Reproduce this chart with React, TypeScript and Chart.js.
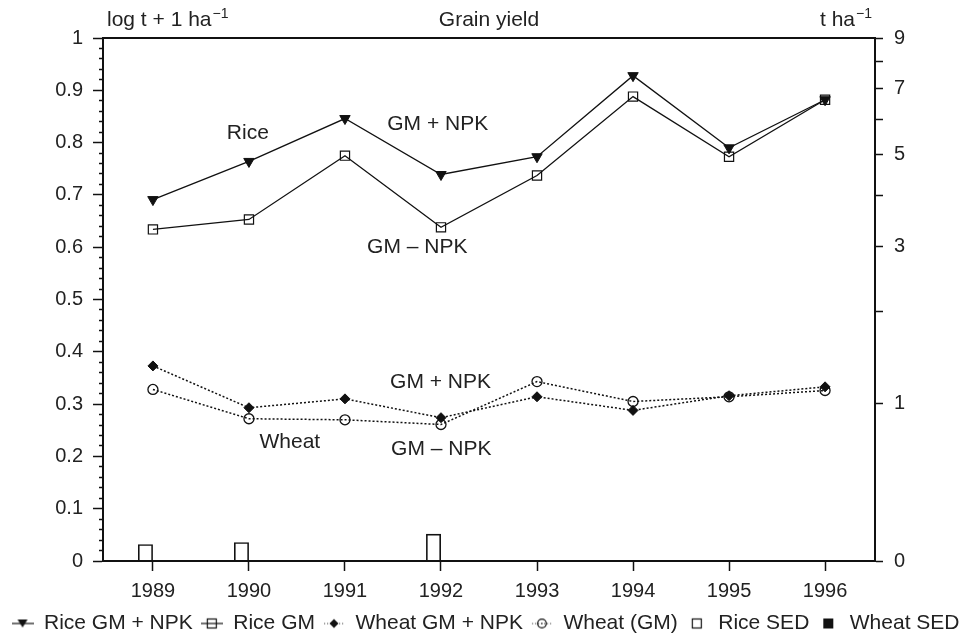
import { useEffect, useRef } from 'react';
import { Chart, registerables } from 'chart.js';

Chart.register(...registerables);

// ---------- data ----------
const years = [1989, 1990, 1991, 1992, 1993, 1994, 1995, 1996];
const riceGmNpk = [0.691, 0.764, 0.846, 0.739, 0.773, 0.928, 0.79, 0.882];
const riceGm = [0.634, 0.653, 0.775, 0.638, 0.737, 0.888, 0.773, 0.882];
const wheatGmNpk = [0.373, 0.293, 0.31, 0.274, 0.314, 0.288, 0.316, 0.333];
const wheatGm = [0.328, 0.272, 0.27, 0.261, 0.343, 0.305, 0.314, 0.326];
const riceSedYears = [1989, 1990, 1992];
const riceSed = [0.032, 0.036, 0.052];
const wheatSedYears: number[] = [];
const wheatSed: number[] = [];

const seriesLabels = ['Rice GM + NPK', 'Rice GM', 'Wheat GM + NPK', 'Wheat (GM)', 'Rice SED', 'Wheat SED'];

const leftMajorTicks = [0, 0.1, 0.2, 0.3, 0.4, 0.5, 0.6, 0.7, 0.8, 0.9, 1];
const leftTickLabels = ['0', '0.1', '0.2', '0.3', '0.4', '0.5', '0.6', '0.7', '0.8', '0.9', '1'];
const leftMinorStep = 0.02;
const rightTickValues = [0, 1, 2, 3, 4, 5, 6, 7, 8, 9]; // t ha-1, axis is log10(t + 1)
const rightTickLabels = ['0', '1', '', '3', '', '5', '', '7', '', '9'];

const annotations = [
  { text: 'Rice', x: 1989.77, y: 0.818 },
  { text: 'GM + NPK', x: 1991.44, y: 0.836 },
  { text: 'GM \u2013 NPK', x: 1991.23, y: 0.6 },
  { text: 'GM + NPK', x: 1991.47, y: 0.341 },
  { text: 'Wheat', x: 1990.11, y: 0.227 },
  { text: 'GM \u2013 NPK', x: 1991.48, y: 0.213 },
];

const FONT = '"Liberation Sans", Arial, Helvetica, sans-serif';
const INK = '#111';
const TXT = '#222';

function makeIcon(draw: (g: CanvasRenderingContext2D) => void) {
  const c = document.createElement('canvas');
  c.width = 22;
  c.height = 16;
  const g = c.getContext('2d')!;
  g.strokeStyle = INK;
  g.fillStyle = INK;
  g.lineWidth = 1.2;
  draw(g);
  return c;
}

function solidLine(g: CanvasRenderingContext2D) {
  g.beginPath();
  g.moveTo(0, 8);
  g.lineTo(22, 8);
  g.stroke();
}
function dottedLine(g: CanvasRenderingContext2D) {
  g.save();
  g.fillStyle = '#666';
  for (let x = 1; x < 22; x += 3) g.fillRect(x, 7.5, 1.2, 1.2);
  g.restore();
}

export default function App() {
  const ref = useRef<HTMLCanvasElement>(null);

  useEffect(() => {
    document.body.style.margin = '0';
    const canvas = ref.current!;

    const icons = [
      makeIcon((g) => {
        solidLine(g);
        g.beginPath();
        g.moveTo(6, 4);
        g.lineTo(16, 4);
        g.lineTo(11, 12);
        g.closePath();
        g.fill();
      }),
      makeIcon((g) => {
        solidLine(g);
        g.strokeRect(6.5, 3.5, 9, 9);
      }),
      makeIcon((g) => {
        dottedLine(g);
        g.beginPath();
        g.moveTo(11, 3.5);
        g.lineTo(15.5, 8);
        g.lineTo(11, 12.5);
        g.lineTo(6.5, 8);
        g.closePath();
        g.fill();
      }),
      makeIcon((g) => {
        dottedLine(g);
        g.beginPath();
        g.arc(11, 8, 4.3, 0, Math.PI * 2);
        g.stroke();
        g.fillRect(10.4, 7.4, 1.2, 1.2);
      }),
      makeIcon((g) => {
        g.strokeRect(6.5, 3.5, 9, 9);
      }),
      makeIcon((g) => {
        g.fillRect(6, 3, 10, 10);
      }),
    ];

    const isMajor = (v: number) => leftMajorTicks.some((m) => Math.abs(m - v) < 1e-6);

    const textPlugin = {
      id: 'texts',
      afterDraw(chart: any) {
        const { ctx, scales, chartArea } = chart;
        ctx.save();
        ctx.fillStyle = TXT;
        ctx.font = `21px ${FONT}`;
        ctx.textAlign = 'left';
        ctx.textBaseline = 'middle';
        annotations.forEach((a) => {
          ctx.fillText(a.text, scales.x.getPixelForValue(a.x), scales.y.getPixelForValue(a.y));
        });
        // header texts
        const base = chartArea.top - 12;
        ctx.textBaseline = 'alphabetic';
        const sup = (main: string, x: number) => {
          ctx.font = `21px ${FONT}`;
          ctx.fillText(main, x, base);
          const w = ctx.measureText(main).width;
          ctx.font = `14px ${FONT}`;
          ctx.fillText('\u22121', x + w + 1, base - 8);
        };
        const supWidth = (main: string) => {
          ctx.font = `21px ${FONT}`;
          const w = ctx.measureText(main).width;
          ctx.font = `14px ${FONT}`;
          return w + 1 + ctx.measureText('\u22121').width;
        };
        sup('log t + 1 ha', chartArea.left + 4);
        ctx.font = `21px ${FONT}`;
        ctx.textAlign = 'center';
        ctx.fillText('Grain yield', (chartArea.left + chartArea.right) / 2, base);
        ctx.textAlign = 'left';
        sup('t ha', chartArea.right - 3 - supWidth('t ha'));
        ctx.restore();
      },
    };

    const xy = (xs: number[], ys: number[]) => xs.map((x, i) => ({ x, y: ys[i] }));

    const chart = new Chart(canvas, {
      type: 'line',
      data: {
        datasets: [
          {
            type: 'line',
            label: seriesLabels[0],
            data: xy(years, riceGmNpk),
            borderColor: INK,
            borderWidth: 1.3,
            pointStyle: 'triangle',
            pointRotation: 180,
            pointRadius: 6,
            pointBackgroundColor: INK,
            pointBorderColor: INK,
            pointBorderWidth: 1,
            tension: 0,
          },
          {
            type: 'line',
            label: seriesLabels[1],
            data: xy(years, riceGm),
            borderColor: INK,
            borderWidth: 1.3,
            pointStyle: 'rect',
            pointRadius: 6.5,
            pointBackgroundColor: 'rgba(255,255,255,0)',
            pointBorderColor: INK,
            pointBorderWidth: 1.2,
            tension: 0,
          },
          {
            type: 'line',
            label: seriesLabels[2],
            data: xy(years, wheatGmNpk),
            borderColor: INK,
            borderWidth: 1.5,
            borderDash: [2, 2],
            pointStyle: 'rectRot',
            pointRadius: 5,
            pointBackgroundColor: INK,
            pointBorderColor: INK,
            pointBorderWidth: 1,
            tension: 0,
          },
          {
            type: 'line',
            label: seriesLabels[3],
            data: xy(years, wheatGm),
            borderColor: INK,
            borderWidth: 1.5,
            borderDash: [2, 2],
            pointStyle: 'circle',
            pointRadius: 5,
            pointBackgroundColor: 'rgba(255,255,255,0)',
            pointBorderColor: INK,
            pointBorderWidth: 1.3,
            tension: 0,
          },
          {
            type: 'bar',
            label: seriesLabels[4],
            data: xy(riceSedYears, riceSed),
            backgroundColor: 'rgba(255,255,255,0)',
            borderColor: INK,
            borderWidth: 1.6,
            categoryPercentage: 30 / 96.3,
            barPercentage: 1,
          },
          {
            type: 'bar',
            label: seriesLabels[5],
            data: xy(wheatSedYears, wheatSed),
            backgroundColor: INK,
            borderColor: INK,
            borderWidth: 0,
            categoryPercentage: 30 / 96.3,
            barPercentage: 1,
          },
        ],
      } as any,
      options: {
        responsive: false,
        animation: false,
        events: [],
        layout: { padding: { top: 38, bottom: 0, left: 0, right: 0 } },
        plugins: {
          tooltip: { enabled: false },
          title: { display: false },
          legend: {
            position: 'bottom',
            labels: {
              usePointStyle: true,
              pointStyleWidth: 22,
              padding: 8,
              color: TXT,
              font: { size: 21, family: FONT },
              generateLabels: (ch: any) => {
                const items = (Chart.defaults.plugins.legend.labels as any).generateLabels(ch);
                return items.map((it: any, i: number) => ({ ...it, pointStyle: icons[i], rotation: 0 }));
              },
            },
          },
        },
        scales: {
          x: {
            type: 'linear',
            position: 'bottom',
            offset: false,
            min: 1988.48,
            max: 1996.52,
            afterBuildTicks: (s: any) => {
              s.ticks = years.map((v) => ({ value: v }));
            },
            afterFit: (s: any) => {
              s.height = 44;
            },
            ticks: {
              autoSkip: false,
              maxRotation: 0,
              padding: 8,
              color: TXT,
              font: { size: 20, family: FONT },
              callback: (v: any) => String(v),
            },
            grid: { offset: false, drawOnChartArea: false, tickLength: 10, tickWidth: 1.5, tickColor: INK },
            border: { display: true, color: INK, width: 2 },
          },
          xTop: {
            type: 'linear',
            axis: 'x',
            position: 'top',
            offset: false,
            afterFit: (s: any) => {
              s.height = 0;
            },
            ticks: { display: false },
            grid: { offset: false, drawOnChartArea: false, drawTicks: false },
            border: { display: true, color: INK, width: 2 },
          },
          y: {
            type: 'linear',
            position: 'left',
            min: 0,
            max: 1,
            afterBuildTicks: (s: any) => {
              const t = [];
              for (let k = 0; k <= Math.round(1 / leftMinorStep); k++) t.push({ value: Math.round(k * leftMinorStep * 1000) / 1000 });
              s.ticks = t;
            },
            afterFit: (s: any) => {
              s.width = 103;
            },
            ticks: {
              autoSkip: false,
              padding: 10,
              color: TXT,
              font: { size: 20, family: FONT },
              callback: (v: any) => {
                const i = leftMajorTicks.findIndex((m) => Math.abs(m - v) < 1e-6);
                return i >= 0 ? leftTickLabels[i] : '';
              },
            },
            grid: {
              drawOnChartArea: false,
              tickLength: 10,
              tickWidth: 1.5,
              tickColor: INK,
              tickBorderDash: (c: any) => (c.tick && !isMajor(c.tick.value) ? [0, 6, 5, 100] : []),
            } as any,
            border: { display: true, color: INK, width: 2 },
          },
          yR: {
            type: 'linear',
            position: 'right',
            min: 0,
            max: 1,
            afterBuildTicks: (s: any) => {
              s.ticks = rightTickValues.map((v) => ({ value: Math.log10(v + 1) }));
            },
            afterFit: (s: any) => {
              s.width = 96;
            },
            ticks: {
              autoSkip: false,
              padding: 11,
              color: TXT,
              font: { size: 20, family: FONT },
              callback: (_v: any, i: number) => rightTickLabels[i],
            },
            grid: { drawOnChartArea: false, tickLength: 8, tickWidth: 1.5, tickColor: INK },
            border: { display: true, color: INK, width: 2 },
          },
        },
      } as any,
      plugins: [textPlugin],
    });

    return () => chart.destroy();
  }, []);

  return (
    <div style={{ position: 'absolute', left: 0, top: 0, width: 971, height: 644 }}>
      <canvas ref={ref} width={971} height={644} style={{ display: 'block', width: 971, height: 644 }} />
    </div>
  );
}
